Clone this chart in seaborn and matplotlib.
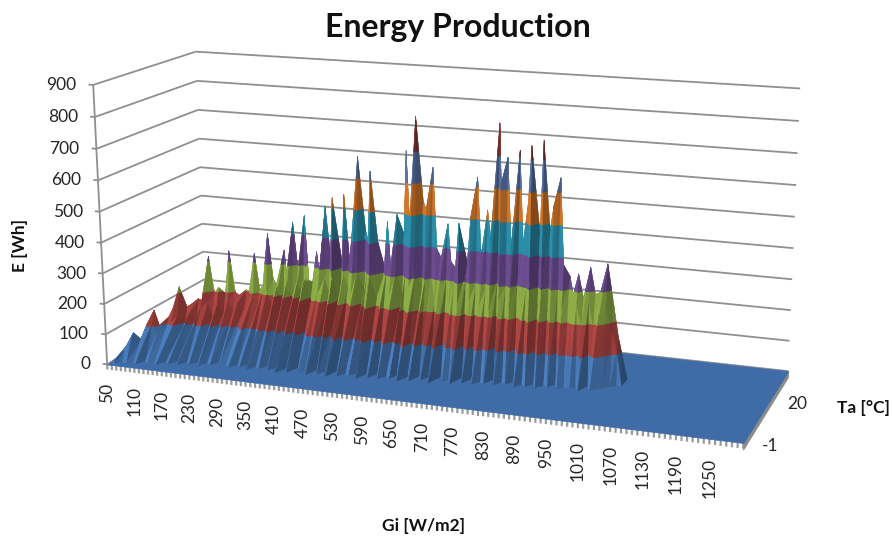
import numpy as np
import matplotlib
matplotlib.use("Agg")
import matplotlib.pyplot as plt
import seaborn as sns
from mpl_toolkits.mplot3d.art3d import Poly3DCollection, Line3DCollection
from mpl_toolkits.mplot3d import proj3d

# ---------- data ----------
gi_labels = [50, 110, 170, 230, 290, 350, 410, 470, 530, 590, 650, 710, 770,
             830, 890, 950, 1010, 1070, 1130, 1190, 1250]
ta_labels = [-1, 20]
e_ticks = [0, 100, 200, 300, 400, 500, 600, 700, 800, 900]
gi_min, gi_max = 50, 1310
ta_min, ta_max = -1, 37

# one entry per Gi bin 50, 60, ... 1030
e_peak = [0, 15, 45, 85, 60, 110, 150, 100, 120, 150,
          220, 150, 160, 175, 170, 315, 190, 215, 190, 335,
          200, 190, 205, 200, 330, 210, 230, 400, 250, 230,
          345, 250, 440, 270, 460, 260, 250, 350, 290, 500,
          340, 535, 310, 545, 330, 420, 670, 430, 400, 630,
          400, 310, 470, 330, 495, 430, 700, 480, 810, 540,
          520, 650, 400, 370, 475, 360, 340, 490, 350, 510,
          630, 380, 530, 450, 800, 620, 700, 420, 720, 430,
          560, 745, 470, 760, 480, 560, 645, 380, 340, 290,
          355, 280, 375, 290, 300, 385, 250, 150, 0]
e_mid = [0, 10, 35, 70, 45, 90, 110, 80, 95, 105,
         130, 100, 135, 115, 150, 165, 120, 160, 130, 175,
         140, 170, 150, 185, 190, 165, 200, 210, 170, 225,
         180, 230, 195, 245, 205, 260, 190, 255, 225, 270,
         220, 280, 210, 290, 245, 230, 300, 240, 285, 300,
         225, 275, 300, 235, 310, 240, 300, 270, 320, 260,
         290, 310, 230, 285, 300, 220, 295, 240, 310, 250,
         300, 235, 290, 225, 320, 260, 305, 240, 325, 235,
         290, 320, 245, 315, 240, 300, 320, 235, 250, 210,
         265, 200, 270, 195, 230, 245, 170, 110, 0]
ta_start = [0, 0, 1, 1, 2, 1, 3, 2, 3, 2,
            4, 3, 5, 3, 5, 4, 6, 4, 6, 5,
            7, 5, 6, 5, 7, 6, 8, 5, 7, 6,
            8, 6, 8, 5, 8, 6, 9, 7, 8, 6,
            9, 7, 9, 6, 10, 7, 9, 8, 10, 7,
            10, 8, 11, 8, 10, 9, 12, 8, 11, 9,
            12, 10, 13, 9, 13, 11, 12, 10, 14, 11,
            14, 11, 13, 12, 15, 12, 14, 13, 15, 12,
            14, 13, 15, 13, 15, 14, 16, 14, 15, 15,
            16, 14, 17, 15, 16, 17, 18, 19, 19]
ta_peak = [1, 1, 3, 4, 5, 6, 7, 7, 9, 9,
           10, 11, 11, 12, 12, 13, 13, 13, 14, 14,
           14, 14, 15, 15, 15, 15, 15, 15, 15, 15,
           16, 15, 16, 16, 17, 15, 16, 16, 15, 16,
           16, 15, 17, 16, 16, 15, 16, 17, 16, 15,
           16, 17, 16, 15, 16, 17, 16, 15, 16, 17,
           16, 17, 16, 16, 17, 16, 16, 15, 17, 16,
           17, 16, 17, 16, 18, 16, 17, 16, 18, 17,
           17, 16, 18, 17, 18, 17, 18, 17, 18, 17,
           17, 17, 18, 18, 18, 19, 20, 20, 20]

band_colors = ['#4a7cba', '#ab4542', '#8aaa46', '#6b4c8e', '#2b8ca7',
               '#cc742a', '#566f9f', '#833434', '#6a8436']
floor_color = '#3f6ca6'
grid_color = '#8f8f8f'
text_color = '#262626'

# ---------- figure and camera ----------
sns.set_theme(style='white')
plt.rcParams['font.family'] = ['Lato', 'DejaVu Sans']
palette = sns.color_palette(band_colors)

W, H = 893, 541
fig = plt.figure(figsize=(W / 100, H / 100), dpi=100)
ax = fig.add_axes([0, (H - W) / 2 / H, 1, W / H], projection='3d',
                  computed_zorder=False)
ax.set_facecolor('none')
ax.set_axis_off()
ax.apply_aspect()

world = [(50, -1, 0), (1310, -1, 0), (1310, 37, 0), (50, 37, 0), (50, -1, 900),
         (50, 37, 900), (1310, 37, 900), (650, -1, 0), (1310, 20, 0)]
image = [(108, 365), (742, 442), (787, 372), (204, 306), (92, 85),
         (197, 52), (800, 88), (392, 399.5), (772, 402)]
to_2d = ax.transData.inverted()
T = np.array([[1 / 630, 0, 0, -680 / 630], [0, 1 / 19, 0, -18 / 19],
              [0, 0, 1 / 450, -1], [0, 0, 0, 1]])
rows = []
for p, q in zip(world, image):
    X = T @ np.array([*p, 1.0])
    u, v = to_2d.transform((q[0], H - q[1]))
    rows.append(np.r_[X, np.zeros(4), -u * X])
    rows.append(np.r_[np.zeros(4), X, -v * X])
P = np.linalg.svd(np.array(rows))[2][-1].reshape(3, 4) @ T
if (P[2] @ np.array([680, 18, 450, 1])) < 0:
    P = -P
P = P / (P[2] @ np.array([680, 18, 450, 1]))
M = np.vstack([P[0], P[1], P[2] - np.array([0, 0, 0, 0.5]), P[2]])
ax.get_proj = lambda: M
ax.M = M


def project(x, y, z):
    a, b, _ = proj3d.proj_transform(x, y, z, M)
    return float(a), float(b)


# ---------- walls and axes ----------
segments = []
for z in e_ticks:
    segments.append([(gi_min, ta_min, z), (gi_min, ta_max, z)])
    segments.append([(gi_min, ta_max, z), (gi_max, ta_max, z)])
    segments.append([(gi_min - 10, ta_min, z), (gi_min, ta_min, z)])
    ax.annotate(str(z), xy=project(gi_min, ta_min, z), xytext=(-12, 0),
                textcoords='offset points', ha='right', va='center',
                fontsize=12.5, color=text_color)
segments.append([(gi_min, ta_min, 0), (gi_min, ta_min, 900)])
ax.add_collection3d(Line3DCollection(segments, colors=grid_color, linewidths=1.3,
                                     zorder=0.5), autolim=False)

# ---------- floor with its side and its tick comb ----------
floor = Poly3DCollection([[(gi_min, ta_min, 0), (gi_max, ta_min, 0),
                           (gi_max, ta_max, 0), (gi_min, ta_max, 0)]],
                         facecolors=floor_color, edgecolors=floor_color,
                         linewidths=0.5, zorder=1)
side = Poly3DCollection([[(gi_max, ta_min, 0), (gi_max, ta_max, 0),
                          (gi_max, ta_max, -20), (gi_max, ta_min, -20)]],
                        facecolors='#8c8c8c', edgecolors='#8c8c8c',
                        linewidths=0.5, zorder=0.9)
ax.add_collection3d(side, autolim=False)
ax.add_collection3d(floor, autolim=False)
comb = [[(g, ta_min, 0), (g, ta_min, -17)] for g in np.arange(gi_min, gi_max + 1, 10)]
ax.add_collection3d(Line3DCollection(comb, colors='#9a9a9a', linewidths=1.6,
                                     zorder=0.8), autolim=False)

for g in gi_labels:
    ax.annotate(str(g), xy=project(g, ta_min, 0), xytext=(0, -13.5),
                textcoords='offset points', ha='center', va='top', rotation=90,
                fontsize=12.5, color=text_color)
for t in ta_labels:
    ax.annotate(str(t), xy=project(gi_max, t, 0), xytext=(13, -2),
                textcoords='offset points', ha='left', va='center',
                fontsize=12.5, color=text_color)

# ---------- surface, cut into 100 Wh colour bands ----------
gi = np.arange(50, 50 + 10 * len(e_peak), 10)
knots_y = np.array([ta_start, np.array(ta_peak) - 1, ta_peak, np.array(ta_peak) + 3], float).T
knots_z = np.array([np.zeros(len(gi)), e_mid, e_peak, np.zeros(len(gi))], float).T


def clip(poly, lo, hi):
    for limit, keep in ((lo, 1), (hi, -1)):
        out = []
        for a, b in zip(poly, poly[1:] + poly[:1]):
            da, db = keep * (a[2] - limit), keep * (b[2] - limit)
            if da >= 0:
                out.append(a)
            if da * db < 0:
                s = da / (da - db)
                out.append(tuple(a[i] + s * (b[i] - a[i]) for i in range(3)))
        poly = out
        if len(poly) < 3:
            return []
    return poly


light = np.array([-0.75, -0.45, 0.5])
light = light / np.linalg.norm(light)
scale = np.array([0.5, 4.0, 0.32])
polys, colors = [], []
for i in range(len(gi) - 1):
    for k in range(3):
        a = (gi[i], knots_y[i, k], knots_z[i, k])
        b = (gi[i + 1], knots_y[i + 1, k], knots_z[i + 1, k])
        c = (gi[i + 1], knots_y[i + 1, k + 1], knots_z[i + 1, k + 1])
        d = (gi[i], knots_y[i, k + 1], knots_z[i, k + 1])
        for tri in ((a, b, c), (a, c, d)):
            zs = [p[2] for p in tri]
            if max(zs) <= 0:
                continue
            pts = np.array(tri, float) * scale
            n = np.cross(pts[1] - pts[0], pts[2] - pts[0])
            norm = np.linalg.norm(n)
            if norm == 0:
                continue
            n = n / norm
            if n[1] > 0:
                n = -n
            shade = np.clip(0.8 + 0.35 * float(n @ light), 0.5, 1.03)
            for b_i, base in enumerate(palette):
                piece = clip(list(tri), b_i * 100, (b_i + 1) * 100)
                if piece:
                    polys.append(piece)
                    colors.append(tuple(np.clip(np.array(base) * shade, 0, 1)))

surface = Poly3DCollection(polys, facecolors=colors, edgecolors=colors,
                           linewidths=0.25, zorder=2)
ax.add_collection3d(surface, autolim=False)

# ---------- titles ----------
fig.text(458 / W, 1 - 28 / H, 'Energy Production', ha='center', va='center',
         fontsize=23, fontweight='bold', color='#111111')
fig.text(424 / W, 1 - 526 / H, 'Gi [W/m2]', ha='center', va='center',
         fontsize=12.5, fontweight='bold', color='#111111')
fig.text(20 / W, 1 - 245 / H, 'E [Wh]', ha='center', va='center', rotation=90,
         fontsize=12.5, fontweight='bold', color='#111111')
fig.text(863 / W, 1 - 408 / H, 'Ta [°C]', ha='center', va='center',
         fontsize=12.5, fontweight='bold', color='#111111')

ax.set_xlim(gi_min, gi_max)
ax.set_ylim(ta_min, ta_max)
ax.set_zlim(0, 900)
fig.savefig('out.png', dpi=100)
